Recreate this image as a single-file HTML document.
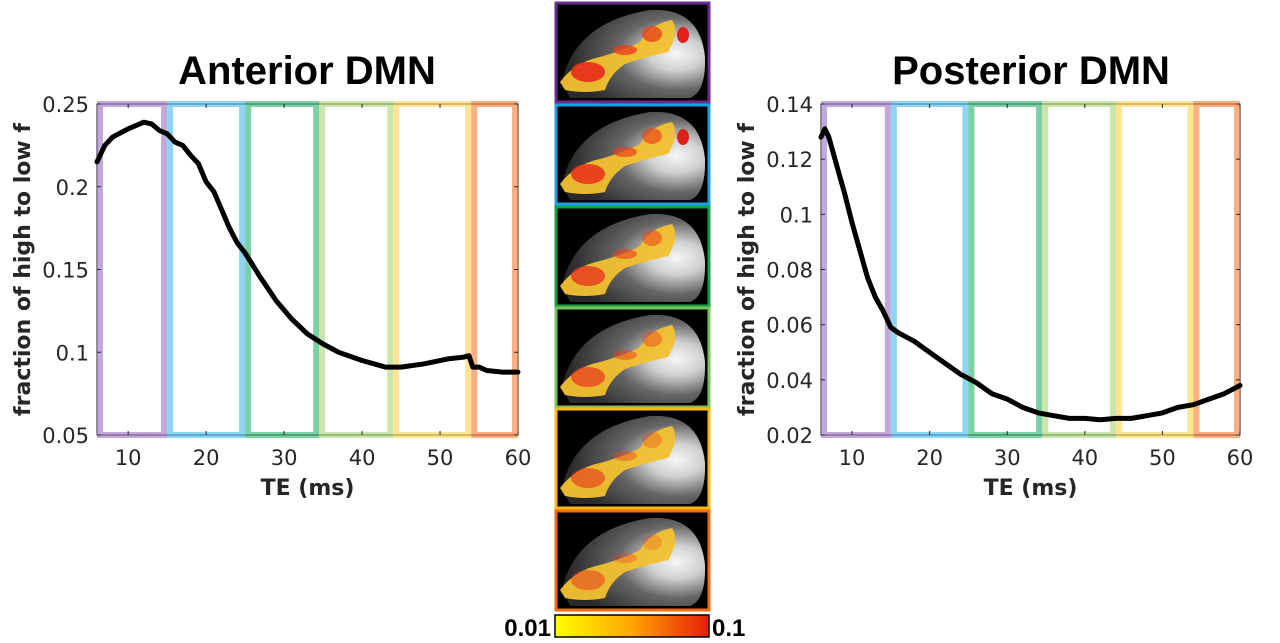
<!DOCTYPE html>
<html><head><meta charset="utf-8"><style>
body{margin:0;background:#fff;width:1280px;height:643px;overflow:hidden;font-family:"Liberation Sans",sans-serif}
svg{position:absolute;left:0;top:0}
</style></head><body>
<svg id="s" width="1280" height="643" xmlns="http://www.w3.org/2000/svg">
<defs>
<linearGradient id="cb" x1="0" x2="1"><stop offset="0" stop-color="#ffff00"/><stop offset="0.5" stop-color="#ffa500"/><stop offset="1" stop-color="#e81b0c"/></linearGradient>
<radialGradient id="br" cx="0.8" cy="0.5" r="0.75"><stop offset="0" stop-color="#f6f6f6"/><stop offset="0.25" stop-color="#d0d0d0"/><stop offset="0.55" stop-color="#666"/><stop offset="1" stop-color="#2a2a2a"/></radialGradient>
</defs>
<text x="307" y="84" font-size="40" font-weight="bold" text-anchor="middle">Anterior DMN</text>
<text x="1031" y="84" font-size="40" font-weight="bold" text-anchor="middle">Posterior DMN</text>
<g id="left"></g>
<g id="right"></g>
<g id="center"></g>
</svg>
<script>
const NS='http://www.w3.org/2000/svg';
const bandEdges=[6,15,25,34.5,44,54,60];
const bandColors=['#9b6fc2','#41b8ee','#27b065','#a6d66f','#fdd34c','#fa7a2c'];
const xTicks=[10,20,30,40,50,60];
const antTE=[6,7,8,10,12,13,14,15,16,17,18,19,20,21,22,23,24,25,27,29,31,33,35,37,40,43,45,48,51,53,53.7,54.2,55,56,58,60];
const antVal=[0.215,0.225,0.230,0.235,0.239,0.238,0.234,0.232,0.227,0.225,0.219,0.214,0.203,0.197,0.186,0.175,0.166,0.160,0.145,0.131,0.120,0.111,0.105,0.100,0.095,0.091,0.091,0.093,0.096,0.097,0.098,0.091,0.091,0.089,0.088,0.088];
const antTicks=[0.05,0.1,0.15,0.2,0.25];
const antTickLabels=['0.05','0.1','0.15','0.2','0.25'];
const postTE=[6,6.5,7,8,9,10,11,12,13,14,15,16,18,20,22,24,26,28,30,32,34,36,38,40,42,44,46,48,50,52,54,56,58,60];
const postVal=[0.128,0.131,0.128,0.118,0.108,0.097,0.087,0.077,0.070,0.065,0.059,0.057,0.054,0.050,0.046,0.042,0.039,0.035,0.033,0.030,0.028,0.027,0.026,0.026,0.0255,0.026,0.026,0.027,0.028,0.030,0.031,0.033,0.035,0.038];
const postTicks=[0.02,0.04,0.06,0.08,0.1,0.12,0.14];
const postTickLabels=['0.02','0.04','0.06','0.08','0.1','0.12','0.14'];
const frameColors=['#6a2c91','#1ba1e2','#13a14a','#7cc35a','#fdb913','#f26b0f'];
const DJ='"DejaVu Sans", sans-serif';

function el(t,a,p){const e=document.createElementNS(NS,t);for(const k in a)e.setAttribute(k,a[k]);p.appendChild(e);return e;}
function chart(g,L,R,T,B,ymin,ymax,te,val,ticks,labels,prefix){
  const xs=v=>L+(v-6)/(60-6)*(R-L);
  const ys=v=>B-(v-ymin)/(ymax-ymin)*(B-T);
  el('rect',{x:L,y:T,width:R-L,height:B-T,fill:'none',stroke:'#262626','stroke-width':1},g);
  for(let i=0;i<bandColors.length;i++){
    const r=el('rect',{x:xs(bandEdges[i])+3,y:T,width:xs(bandEdges[i+1])-xs(bandEdges[i])-6,height:B-T,fill:'none',stroke:bandColors[i],'stroke-width':6,'stroke-opacity':0.6},g);
    
    
  }
  xTicks.forEach(t=>{
    el('line',{x1:xs(t),x2:xs(t),y1:B,y2:B-4,stroke:'#262626'},g);
    el('line',{x1:xs(t),x2:xs(t),y1:T,y2:T+4,stroke:'#262626'},g);
    const tx=el('text',{x:xs(t),y:B+30,'font-size':21,'font-family':DJ,'text-anchor':'middle',fill:'#262626'},g);tx.textContent=t;
    
    
  });
  ticks.forEach((t,i)=>{
    el('line',{x1:L,x2:L+4,y1:ys(t),y2:ys(t),stroke:'#262626'},g);
    el('line',{x1:R,x2:R-4,y1:ys(t),y2:ys(t),stroke:'#262626'},g);
    const tx=el('text',{x:L-8,y:ys(t)+8,'font-size':21,'font-family':DJ,'text-anchor':'end',fill:'#262626'},g);tx.textContent=labels[i];
    
    
  });
  const d=te.map((v,i)=>(i?'L':'M')+xs(v).toFixed(1)+','+ys(val[i]).toFixed(1)).join('');
  const p=el('path',{d:d,fill:'none',stroke:'#000','stroke-width':5,'stroke-linejoin':'round','stroke-linecap':'round'},g);
  
  
  const xl=el('text',{x:(L+R)/2,y:B+60,'font-size':22,'font-family':DJ,'font-weight':'bold','text-anchor':'middle',fill:'#262626'},g);xl.textContent='TE (ms)';
  
  
  const yl=el('text',{transform:`translate(${L-67},${(T+B)/2}) rotate(-90)`,'font-size':22,'font-family':DJ,'font-weight':'bold','text-anchor':'middle',fill:'#262626'},g);yl.textContent='fraction of high to low f';
  
  
}
chart(document.getElementById('left'),97,518,104,435,0.05,0.25,antTE,antVal,antTicks,antTickLabels,'anterior');
chart(document.getElementById('right'),821,1240,104,435,0.02,0.14,postTE,postVal,postTicks,postTickLabels,'posterior');

const c=document.getElementById('center');
const fy=[2,104,206,307,408,510];
fy.forEach((y,i)=>{
  const g=el('g',{},c);
  
  
  el('rect',{x:555,y:y,width:155,height:100,fill:'#000'},g);
  el('path',{d:`M562,${y+80} Q575,${y+20} 650,${y+8} Q700,${y+5} 705,${y+55} Q706,${y+90} 690,${y+96} L570,${y+96} Z`,fill:'url(#br)'},g);
  const red=Math.max(0,1-i*0.18);
  el('path',{d:`M560,${y+80} Q575,${y+60} 600,${y+55} Q625,${y+48} 640,${y+40} Q650,${y+22} 672,${y+18} Q680,${y+30} 668,${y+50} Q645,${y+55} 625,${y+62} Q610,${y+72} 605,${y+88} Q585,${y+92} 565,${y+88} Z`,fill:'#f2c12e','fill-opacity':0.95},g);
  el('ellipse',{cx:588,cy:y+70,rx:17,ry:10,fill:'#e8301c','fill-opacity':0.45+0.5*red},g);
  el('ellipse',{cx:625,cy:y+48,rx:12,ry:5,fill:'#e8401c','fill-opacity':0.3+0.5*red},g);
  el('ellipse',{cx:652,cy:y+32,rx:10,ry:8,fill:'#e8461c','fill-opacity':0.2+0.6*red},g);
  if(i<2) el('ellipse',{cx:683,cy:y+33,rx:6,ry:8,fill:'#e01f1f'},g);
  const f=el('rect',{x:556,y:y+1,width:153,height:99,fill:'none',stroke:frameColors[i],'stroke-width':3},g);
  
  
});
const cbar=el('rect',{x:555,y:615,width:154,height:22,fill:'url(#cb)',stroke:'#000','stroke-width':1.5},c);


const l1=el('text',{x:551,y:636,'font-size':24,'font-weight':'bold','text-anchor':'end'},c);l1.textContent='0.01';


const l2=el('text',{x:712,y:636,'font-size':24,'font-weight':'bold'},c);l2.textContent='0.1';


</script>
</body></html>
